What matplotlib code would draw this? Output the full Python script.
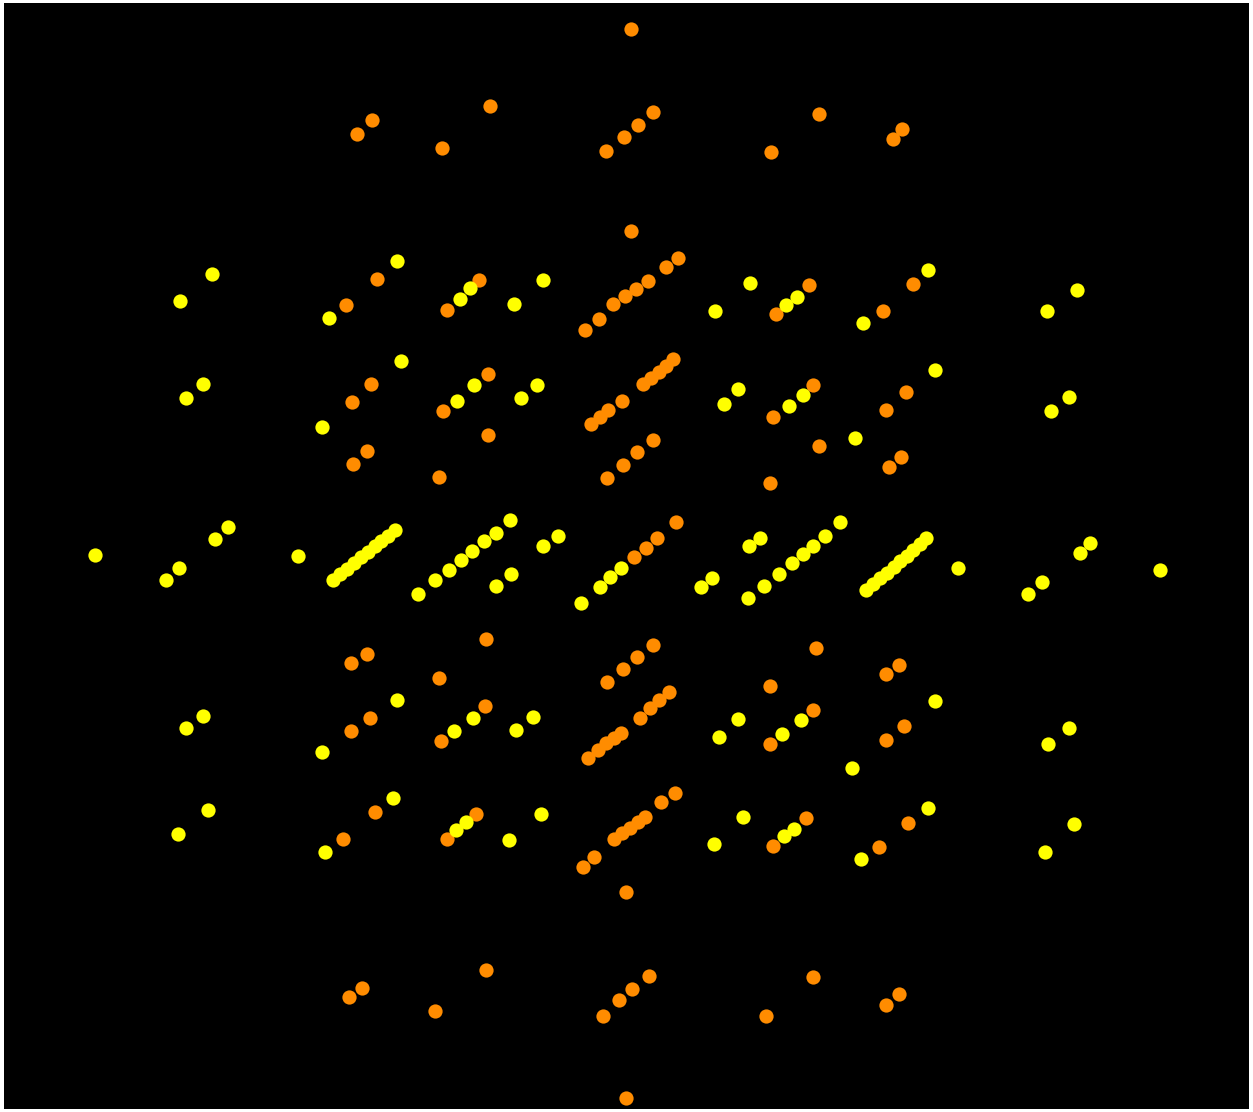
import numpy as np
from matplotlib import pyplot as plt

# orange spots (x, y in image units, y grows downwards)
orange_x = [631, 357, 372, 490, 442, 606, 624, 638, 653, 819, 771, 893, 902,
            631, 585, 599, 613, 625, 636, 648, 666, 678,
            447, 479, 377, 346, 776, 809, 883, 913,
            352, 371, 353, 367, 439, 443, 488, 488,
            591, 600, 608, 622, 643, 651, 659, 666, 673,
            607, 623, 637, 653, 773, 813, 819, 770, 886, 906, 889, 901,
            634, 646, 657, 676,
            486, 351, 367, 439, 351, 370, 441, 485, 607, 623, 637, 653,
            588, 598, 606, 614, 621, 640, 650, 659, 669,
            770, 816, 886, 899, 770, 813, 886, 904,
            343, 375, 447, 476,
            583, 594, 614, 622, 630, 638, 645, 661, 675,
            626, 773, 806, 879, 908,
            349, 362, 486, 435, 603, 619, 632, 649, 626, 766, 813, 886, 899]
orange_y = [29, 134, 120, 106, 148, 151, 137, 125, 112, 114, 152, 139, 129,
            231, 330, 319, 304, 296, 289, 281, 267, 258,
            310, 280, 279, 305, 314, 285, 311, 284,
            402, 384, 464, 451, 477, 411, 374, 435,
            424, 417, 410, 401, 384, 378, 372, 366, 359,
            478, 465, 452, 440, 417, 385, 446, 483, 410, 392, 467, 457,
            557, 548, 538, 522,
            639, 663, 654, 678, 731, 718, 741, 706, 682, 669, 657, 645,
            758, 750, 743, 738, 733, 718, 708, 700, 692,
            686, 648, 674, 665, 744, 710, 740, 726,
            839, 812, 839, 814,
            867, 857, 839, 833, 828, 822, 817, 802, 793,
            892, 846, 818, 847, 823,
            997, 988, 970, 1011, 1016, 1000, 989, 976, 1098, 1016, 977, 1005, 994]

# yellow spots
yellow_x = [180, 212, 329, 397, 460, 470, 514, 543, 715, 750, 786, 797, 863, 928, 1047, 1077,
            186, 203, 322, 401, 457, 474, 521, 537, 724, 738, 789, 803, 855, 935, 1051, 1069,
            95, 166, 179, 215, 228, 298,
            333, 340, 347, 354, 361, 368, 375, 381, 388, 395,
            418, 435, 449, 461, 472, 484, 496, 510,
            543, 558, 496, 511, 581, 600, 610, 621,
            701, 712, 749, 760,
            748, 764, 779, 792, 803, 813, 825, 840,
            866, 873, 880, 887, 894, 900, 907, 913, 920, 926,
            958, 1028, 1042, 1080, 1090, 1160,
            397, 322, 186, 203, 454, 473, 516, 533, 719, 738, 782, 801, 852, 935, 1048, 1069,
            178, 208, 325, 393, 456, 466, 509, 541, 714, 743, 784, 794, 861, 928, 1045, 1074]
yellow_y = [301, 274, 318, 261, 299, 288, 304, 280, 311, 283, 305, 297, 323, 270, 311, 290,
            398, 384, 427, 361, 401, 385, 398, 385, 404, 389, 406, 395, 438, 370, 411, 397,
            555, 580, 568, 539, 527, 556,
            580, 574, 569, 563, 557, 552, 546, 541, 536, 530,
            594, 580, 570, 560, 551, 541, 533, 520,
            546, 536, 586, 574, 603, 587, 577, 568,
            587, 578, 546, 538,
            598, 586, 574, 563, 554, 546, 536, 522,
            590, 584, 578, 573, 567, 561, 556, 550, 544, 538,
            568, 594, 582, 553, 543, 570,
            700, 752, 728, 716, 731, 718, 730, 717, 737, 719, 734, 720, 768, 701, 744, 728,
            834, 810, 852, 798, 830, 822, 840, 814, 844, 817, 836, 829, 859, 808, 852, 824]


def generate_plot():
    """
    Draw the spot pattern on a black field and save it as out.png
    """
    figure = plt.figure(figsize=(12.53, 11.12), dpi=100, facecolor='white')
    axes = figure.add_axes([4 / 1253, 3 / 1112, 1245 / 1253, 1106 / 1112])
    axes.set_facecolor('black')

    axes.scatter(orange_x, orange_y, s=105, color='#ff8c00', linewidths=0, zorder=2)
    axes.scatter(yellow_x, yellow_y, s=105, color='#ffff00', linewidths=0, zorder=3)

    axes.set_xlim(4, 1249)
    axes.set_ylim(1109, 3)
    axes.set_xticks([])
    axes.set_yticks([])
    for spine in axes.spines.values():
        spine.set_visible(False)

    figure.savefig('out.png', dpi=100, facecolor='white')


if __name__ == '__main__':
    generate_plot()
